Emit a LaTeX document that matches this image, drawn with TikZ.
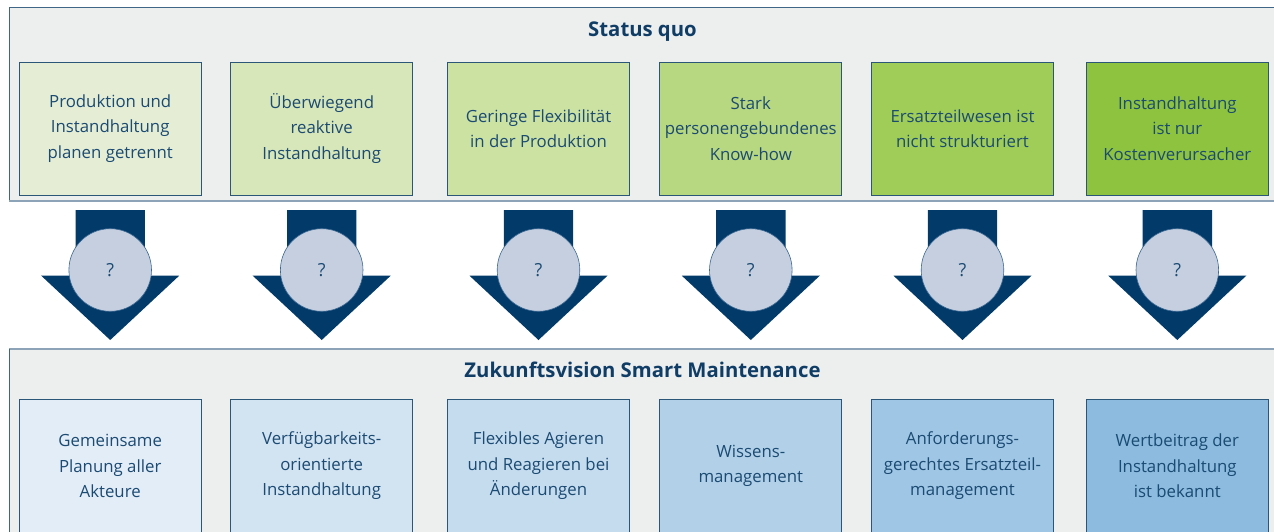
\documentclass[tikz,border=0pt]{standalone}
\usepackage{fontspec}
\setmainfont{Open Sans}
\usetikzlibrary{positioning}

\definecolor{panelgray}{HTML}{EDEEEE}
\definecolor{panelline}{HTML}{3F6687}
\definecolor{panelshade}{HTML}{8CA3B8}
\definecolor{boxline}{HTML}{2B5677}
\definecolor{txtblue}{HTML}{1B4A72}
\definecolor{headblue}{HTML}{0F3D66}
\definecolor{arrowblue}{HTML}{023A69}
\definecolor{qfill}{HTML}{C5CFE0}
\definecolor{qline}{HTML}{3A6892}
% green ramp (status quo), blue ramp (vision)
\definecolor{sq0}{HTML}{E5EED5}
\definecolor{sq1}{HTML}{D8E7B9}
\definecolor{sq2}{HTML}{CBE2A3}
\definecolor{sq3}{HTML}{B7D780}
\definecolor{sq4}{HTML}{9FCD57}
\definecolor{sq5}{HTML}{8DC33F}
\definecolor{zv0}{HTML}{E3EDF7}
\definecolor{zv1}{HTML}{D2E3F2}
\definecolor{zv2}{HTML}{C5DCEF}
\definecolor{zv3}{HTML}{B2D1E9}
\definecolor{zv4}{HTML}{9FC6E5}
\definecolor{zv5}{HTML}{8CBBDF}

\newcommand\boxfont{\fontsize{16.8}{25.5}\selectfont}
\newcommand\headfont{\fontsize{20.3}{26}\selectfont\bfseries}

\begin{document}
\begin{tikzpicture}[x=1pt,y=-1pt,
  card/.style={draw=boxline, line width=0.8pt, minimum width=182pt, minimum height=133pt,
    inner sep=2pt, align=center, text=txtblue, font=\boxfont},
  qmark/.style={circle, draw=qline, line width=0.6pt, fill=qfill, minimum size=82.6pt,
    inner sep=0pt, text=txtblue, font=\fontsize{18}{20}\selectfont},
  head/.style={text=headblue, font=\headfont}]
  \useasboundingbox (0,0) rectangle (1274,531);
  \clip (0,0) rectangle (1274,531);

  % two grey panels
  \fill[panelgray] (9,7) rectangle (1276,201);
  \draw[panelline, line width=0.8pt] (1276,7) -- (9,7) -- (9,201);
  \draw[panelshade, line width=1.4pt] (9,201) -- (1276,201);
  \fill[panelgray] (9,349) rectangle (1276,540);
  \draw[panelshade, line width=1.4pt] (9,349) -- (1276,349);
  \draw[panelline, line width=0.8pt] (9,349) -- (9,540);

  \node[head] (sqhead) at (642.5,32) {Status quo};
  \node[head] (zvhead) at (642.5,370) {Zukunftsvision Smart Maintenance};

  % status quo cards
  \foreach \i/\cx/\txt in {0/110.2/{Produktion und\\Instandhaltung\\planen getrennt},
                           1/321.7/{Überwiegend\\reaktive\\Instandhaltung},
                           2/538.5/{Geringe Flexibilität\\in der Produktion},
                           3/750.8/{Stark\\personengebundenes\\Know-how},
                           4/962.5/{Ersatzteilwesen ist\\nicht strukturiert},
                           5/1177.3/{Instandhaltung\\ist nur\\Kostenverursacher}}
    \node[card, fill=sq\i] (sq\i) at (\cx,128.5) {\txt};

  % vision cards
  \foreach \i/\cx/\txt in {0/110.2/{Gemeinsame\\Planung aller\\Akteure},
                           1/321.7/{Verfügbarkeits-\\orientierte\\Instandhaltung},
                           2/538.5/{Flexibles Agieren\\und Reagieren bei\\Änderungen},
                           3/750.8/{Wissens-\\management},
                           4/962.5/{Anforderungs-\\gerechtes Ersatzteil-\\management},
                           5/1177.3/{Wertbeitrag der\\Instandhaltung\\ist bekannt}}
    \node[card, fill=zv\i] (zv\i) at (\cx,466) {\txt};

  % block arrows with question marks
  \foreach \i/\cx in {0/110.2,1/321.7,2/538.5,3/750.8,4/962.5,5/1177.3} {
    \fill[arrowblue] (\cx-34.7,210) -- (\cx+34.7,210) -- (\cx+34.7,275.7) -- (\cx+69,275.7)
      -- (\cx,340) -- (\cx-69,275.7) -- (\cx-34.7,275.7) -- cycle;
    \node[qmark] (q\i) at (\cx,270) {?};
  }
\end{tikzpicture}
\end{document}
